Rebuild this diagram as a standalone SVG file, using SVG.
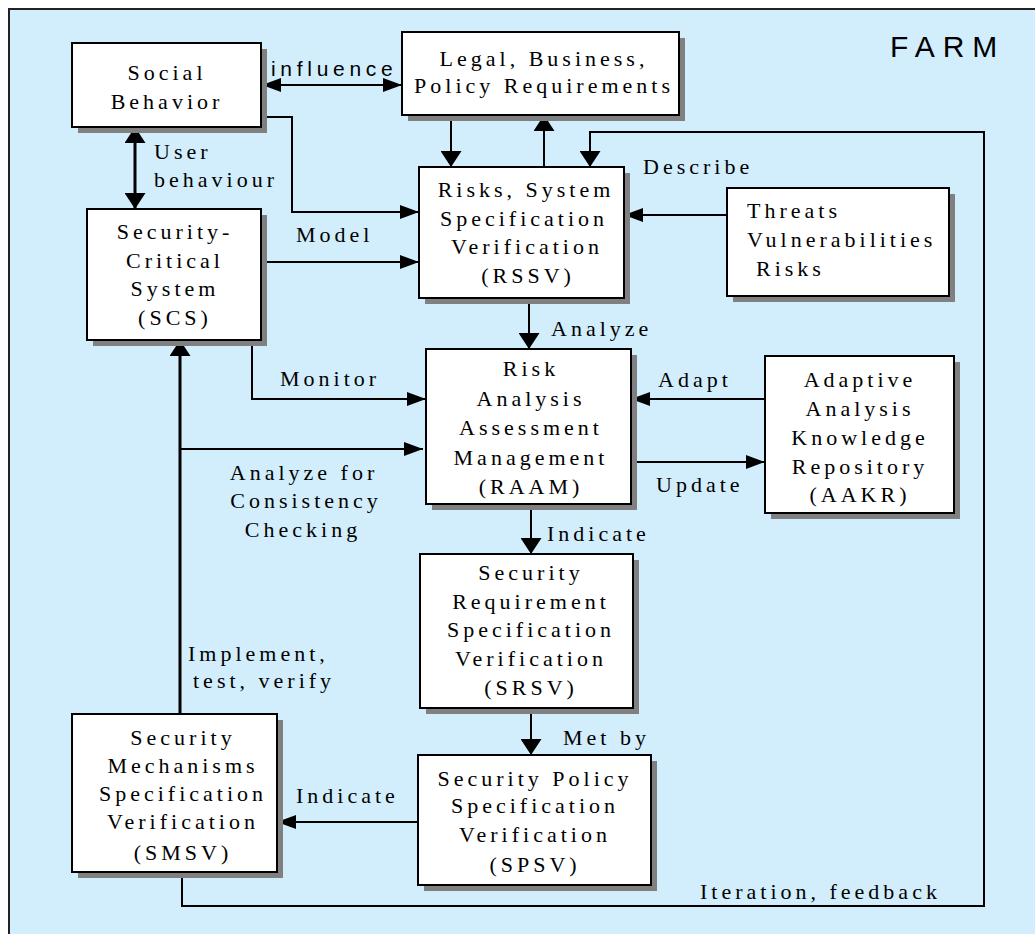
<svg xmlns="http://www.w3.org/2000/svg" width="1035" height="934" viewBox="0 0 1035 934">
<defs>
<marker id="ah" markerUnits="userSpaceOnUse" markerWidth="19" markerHeight="14" refX="19" refY="7" orient="auto-start-reverse"><path d="M0,0 L19,7 L0,14 z" fill="#000"/></marker>
<marker id="av" markerUnits="userSpaceOnUse" markerWidth="16" markerHeight="21" refX="16" refY="10.5" orient="auto-start-reverse"><path d="M0,0 L16,10.5 L0,21 z" fill="#000"/></marker>
</defs>
<style>
.sh{fill:#808080;}
.bx{fill:#fff;stroke:#000;stroke-width:2;}
.t{font-size:22px;letter-spacing:4px;fill:#000;}
.c{text-anchor:middle;}
.ln{fill:none;stroke:#000;stroke-width:2;}
.th{stroke-width:3;}
.h{marker-end:url(#ah);}
.v{marker-end:url(#av);}
</style>
<rect x="0" y="0" width="1035" height="934" fill="#fff"/>
<rect x="9" y="9" width="1040" height="940" fill="#d2eefc" stroke="#222" stroke-width="2"/>
<text x="890" y="57" font-family="Liberation Sans, Arial, sans-serif" font-size="30" letter-spacing="8">FARM</text>

<g id="connectors">
<path class="ln" d="M262,85 H402" marker-start="url(#ah)" marker-end="url(#ah)"/>
<path class="ln th" d="M135,127 V209" marker-start="url(#av)" marker-end="url(#av)"/>
<path class="ln h" d="M261,117 H292 V212 H419"/>
<path class="ln h" d="M261,262 H419"/>
<path class="ln v" d="M451,115 V167"/>
<path class="ln v" d="M544,167 V115"/>
<path class="ln v" d="M182,872 V906 H984 V132 H590 V167"/>
<path class="ln h" d="M727,215 H624"/>
<path class="ln v" d="M529,298 V349"/>
<path class="ln h" d="M252,340 V399 H426"/>
<path class="ln h" d="M765,399 H631"/>
<path class="ln h" d="M631,462 H765"/>
<path class="ln v" d="M531,504 V554"/>
<path class="ln v" d="M531,708 V755"/>
<path class="ln h" d="M418,822 H277"/>
<path class="ln th v" d="M180,714 V340"/>
<path class="ln h" d="M180,449 H423"/>
<text x="271" y="76" font-family="Liberation Sans, Arial, sans-serif" font-size="21" letter-spacing="4.7">influence</text>
<g font-family="Liberation Serif, Times New Roman, serif">
<text class="t" x="154" y="159">User</text>
<text class="t" x="154" y="187">behaviour</text>
<text class="t" x="296" y="242">Model</text>
<text class="t" x="643" y="174">Describe</text>
<text class="t" x="551" y="336">Analyze</text>
<text class="t" x="280" y="386">Monitor</text>
<text class="t" x="658" y="387">Adapt</text>
<text class="t" x="656" y="492">Update</text>
<text class="t c" x="304" y="480">Analyze for</text>
<text class="t c" x="306" y="508">Consistency</text>
<text class="t c" x="303" y="537">Checking</text>
<text class="t" x="547" y="541">Indicate</text>
<text class="t" x="188" y="661">Implement,</text>
<text class="t" x="193" y="688">test, verify</text>
<text class="t" x="563" y="745">Met by</text>
<text class="t" x="296" y="803">Indicate</text>
<text class="t" x="700" y="899">Iteration, feedback</text>
</g>
</g>

<g font-family="Liberation Serif, Times New Roman, serif">
<g id="social">
<rect class="sh" x="78" y="49" width="189" height="84"/>
<rect class="bx" x="72" y="43" width="189" height="84"/>
<text class="t c" x="167" y="80">Social</text>
<text class="t c" x="167" y="109">Behavior</text>
</g>

<g id="legal">
<rect class="sh" x="408" y="38" width="277" height="83"/>
<rect class="bx" x="402" y="32" width="277" height="83"/>
<text class="t c" x="544" y="66">Legal, Business,</text>
<text class="t c" x="544" y="93">Policy Requirements</text>
</g>

<g id="rssv">
<rect class="sh" x="425" y="173" width="205" height="131"/>
<rect class="bx" x="419" y="167" width="205" height="131"/>
<text class="t c" x="526" y="197">Risks, System</text>
<text class="t c" x="524" y="226">Specification</text>
<text class="t c" x="527" y="254">Verification</text>
<text class="t c" x="528" y="283">(RSSV)</text>
</g>

<g id="threats">
<rect class="sh" x="733" y="194" width="222" height="108"/>
<rect class="bx" x="727" y="188" width="222" height="108"/>
<text class="t" x="747" y="218">Threats</text>
<text class="t" x="747" y="247">Vulnerabilities</text>
<text class="t" x="756" y="276">Risks</text>
</g>

<g id="scs">
<rect class="sh" x="93" y="215" width="174" height="131"/>
<rect class="bx" x="87" y="209" width="174" height="131"/>
<text class="t c" x="175" y="239">Security-</text>
<text class="t c" x="175" y="268">Critical</text>
<text class="t c" x="175" y="296">System</text>
<text class="t c" x="175" y="325">(SCS)</text>
</g>

<g id="raam">
<rect class="sh" x="432" y="355" width="205" height="155"/>
<rect class="bx" x="426" y="349" width="205" height="155"/>
<text class="t c" x="531" y="376">Risk</text>
<text class="t c" x="531" y="406">Analysis</text>
<text class="t c" x="531" y="435">Assessment</text>
<text class="t c" x="531" y="465">Management</text>
<text class="t c" x="531" y="494">(RAAM)</text>
</g>

<g id="aakr">
<rect class="sh" x="771" y="362" width="189" height="157"/>
<rect class="bx" x="765" y="356" width="189" height="157"/>
<text class="t c" x="860" y="387">Adaptive</text>
<text class="t c" x="860" y="416">Analysis</text>
<text class="t c" x="860" y="445">Knowledge</text>
<text class="t c" x="860" y="474">Repository</text>
<text class="t c" x="860" y="502">(AAKR)</text>
</g>

<g id="srsv">
<rect class="sh" x="426" y="560" width="213" height="154"/>
<rect class="bx" x="420" y="554" width="213" height="154"/>
<text class="t c" x="531" y="580">Security</text>
<text class="t c" x="531" y="609">Requirement</text>
<text class="t c" x="531" y="637">Specification</text>
<text class="t c" x="531" y="666">Verification</text>
<text class="t c" x="531" y="695">(SRSV)</text>
</g>

<g id="spsv">
<rect class="sh" x="424" y="761" width="233" height="130"/>
<rect class="bx" x="418" y="755" width="233" height="130"/>
<text class="t c" x="535" y="786">Security Policy</text>
<text class="t c" x="535" y="813">Specification</text>
<text class="t c" x="535" y="842">Verification</text>
<text class="t c" x="535" y="872">(SPSV)</text>
</g>

<g id="smsv">
<rect class="sh" x="78" y="720" width="205" height="158"/>
<rect class="bx" x="72" y="714" width="205" height="158"/>
<text class="t c" x="183" y="745">Security</text>
<text class="t c" x="183" y="773">Mechanisms</text>
<text class="t c" x="183" y="801">Specification</text>
<text class="t c" x="183" y="829">Verification</text>
<text class="t c" x="183" y="860">(SMSV)</text>
</g>
</g>
</svg>
